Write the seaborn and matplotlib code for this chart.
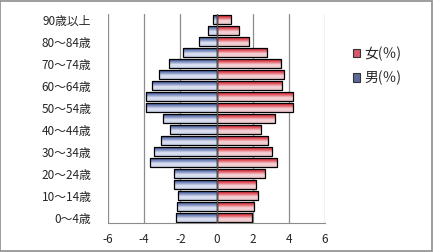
import numpy as np
import pandas as pd
import matplotlib
matplotlib.use("Agg")
import matplotlib.pyplot as plt
import seaborn as sns
from matplotlib.colors import LinearSegmentedColormap
from matplotlib.patches import Patch, Rectangle

ages = ["0～4歳", "5～9歳", "10～14歳", "15～19歳", "20～24歳", "25～29歳",
        "30～34歳", "35～39歳", "40～44歳", "45～49歳", "50～54歳", "55～59歳",
        "60～64歳", "65～69歳", "70～74歳", "75～79歳", "80～84歳", "85～89歳", "90歳以上"]
male = [2.24, 2.17, 2.12, 2.35, 2.35, 3.68, 3.46, 3.09, 2.58, 2.95,
        3.91, 3.91, 3.54, 3.17, 2.62, 1.85, 0.96, 0.46, 0.18]
female = [1.99, 2.08, 2.32, 2.21, 2.69, 3.36, 3.08, 2.86, 2.47, 3.25,
          4.24, 4.24, 3.63, 3.74, 3.54, 2.77, 1.80, 1.25, 0.78]
xticks = [-6, -4, -2, 0, 2, 4, 6]
label_f = "女(％)"
label_m = "男(％)"

sns.set_style("white")
plt.rcParams['font.family'] = ['Noto Sans CJK JP', 'DejaVu Sans']

df = pd.DataFrame({
    "age": ages * 2,
    "value": [-v for v in male] + female,
    "sex": [label_m] * len(ages) + [label_f] * len(ages),
})

fig = plt.figure(figsize=(4.33, 2.52), dpi=100)
fig.patch.set_facecolor("white")
ax = fig.add_axes([108/433, 1-223/252, 217/433, 209/252])

order = ages[::-1]
sns.barplot(data=df, x="value", y="age", hue="sex", order=order,
            hue_order=[label_m, label_f], dodge=False, orient="h",
            palette={label_m: "#5a6fa8", label_f: "#d8454f"},
            width=0.88, edgecolor="black", linewidth=0.9, legend=False, ax=ax)

cmap_m = LinearSegmentedColormap.from_list("m", ["#1f3270", "#6f82b8", "#dfe4f2", "#c9d1e8"])
cmap_f = LinearSegmentedColormap.from_list("f", ["#c8101e", "#e0505a", "#f4d3d7", "#ecc6cb"])
grad = np.linspace(0, 1, 64).reshape(-1, 1)

for p in list(ax.patches):
    x0, y0 = p.get_x(), p.get_y()
    w, h = p.get_width(), p.get_height()
    if w == 0:
        continue
    cm = cmap_m if (x0 + w / 2) < 0 else cmap_f
    xl, xr = min(x0, x0 + w), max(x0, x0 + w)
    top, bot = min(y0, y0 + h), max(y0, y0 + h)
    im = ax.imshow(grad, cmap=cm, aspect="auto",
                   extent=[xl, xr, bot, top], origin="upper", zorder=p.get_zorder())
    im.set_clip_path(p)
    p.set_facecolor("none")
    p.set_zorder(p.get_zorder() + 0.1)

ax.set_xlim(-6, 6)
ax.set_ylim(len(ages) - 0.5, -0.5)
ax.set_xticks(xticks)
ax.set_xticklabels([str(t) for t in xticks], fontsize=8.5)
ax.set_yticks(range(len(order)))
ax.set_yticklabels([lab if (len(order) - 1 - i) % 2 == 0 else "" for i, lab in enumerate(order)],
                   fontsize=8.5)
ax.set_xlabel("")
ax.set_ylabel("")
ax.grid(axis="x", color="#8c8c8c", linewidth=0.9)
ax.set_axisbelow(True)
for s in ["top", "right", "left"]:
    ax.spines[s].set_visible(False)
ax.spines["bottom"].set_color("#8c8c8c")
ax.axvline(0, color="#555555", linewidth=1.0, zorder=5)
ax.tick_params(axis="x", direction="out", length=4, color="#8c8c8c", pad=3)
ax.tick_params(axis="y", length=0, pad=12)

handles = [Patch(facecolor="#d8596a", edgecolor="#333333", linewidth=0.8),
           Patch(facecolor="#5a6a98", edgecolor="#333333", linewidth=0.8)]
fig.legend(handles, [label_f, label_m], loc="center left",
           bbox_to_anchor=(340/433, 1-66/252), frameon=False, fontsize=10,
           handlelength=0.55, handleheight=0.55, handletextpad=0.3, labelspacing=0.7)

fig.add_artist(Rectangle((0.001, 0.002), 0.997, 0.995, transform=fig.transFigure,
                         fill=False, edgecolor="#8c8c8c", linewidth=1.2))

fig.savefig("out.png", dpi=100)
